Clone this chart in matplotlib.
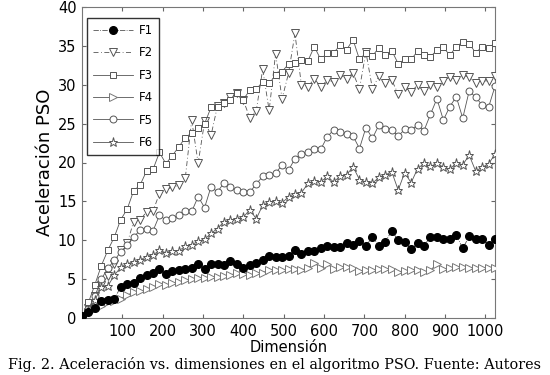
import numpy as np
import matplotlib
matplotlib.use("Agg")
import matplotlib.pyplot as plt

dims = list(range(0, 1025, 16))

F1 = [0.2, 0.75, 1.3, 2.2, 2.3, 2.45, 4.0, 4.35, 4.45, 5.1, 5.5, 5.75, 6.3, 5.6, 6.05, 6.15,
      6.3, 6.45, 6.9, 6.3, 7.0, 6.95, 6.8, 7.3, 7.0, 6.45, 6.8, 7.1, 7.45, 7.95, 7.9, 7.8,
      7.95, 8.8, 8.2, 8.65, 8.6, 9.05, 9.25, 9.1, 9.1, 9.6, 9.4, 9.95, 9.25, 10.45, 9.3, 9.8,
      11.2, 10.0, 9.75, 8.85, 9.6, 9.3, 10.45, 10.45, 10.2, 10.1, 10.7, 8.95, 10.5, 10.15, 10.2, 9.4, 10.2]

F2 = [0.1, 1.3, 2.8, 4.2, 5.4, 7.0, 8.8, 9.6, 12.4, 12.6, 13.65, 13.75, 16.0, 16.55, 16.8, 17.1,
      17.95, 25.45, 19.9, 25.3, 23.5, 27.3, 27.7, 28.4, 28.9, 28.0, 25.75, 26.65, 32.0, 26.7, 34.0, 28.2,
      31.45, 36.6, 29.95, 29.7, 30.8, 29.7, 30.6, 30.4, 31.2, 30.8, 31.5, 29.5, 34.2, 29.5, 31.1, 30.2,
      30.6, 28.8, 29.65, 29.1, 29.95, 29.2, 29.95, 29.65, 30.5, 31.0, 30.6, 31.2, 31.0, 30.2, 30.5, 30.5, 31.1]

F3 = [0.1, 2.0, 4.3, 6.75, 8.7, 10.4, 12.65, 14.0, 16.35, 17.1, 18.9, 19.1, 21.3, 19.85, 20.9, 22.0,
      23.2, 23.8, 24.5, 25.0, 27.1, 27.2, 27.6, 28.0, 28.9, 28.1, 29.3, 29.4, 30.4, 30.2, 31.2, 31.7,
      32.65, 32.8, 33.2, 33.05, 34.9, 33.25, 34.1, 34.1, 35.1, 34.5, 35.8, 33.25, 34.1, 33.7, 34.75, 33.8,
      34.4, 32.7, 33.25, 33.25, 34.3, 33.8, 33.6, 34.45, 34.8, 33.8, 34.9, 35.5, 35.3, 34.1, 34.9, 34.7, 35.4]

F4 = [0.1, 0.8, 1.1, 1.6, 2.0, 2.2, 2.5, 2.95, 3.3, 3.45, 3.7, 4.0, 4.35, 4.2, 4.45, 4.65,
      4.85, 5.05, 5.15, 5.2, 5.3, 5.3, 5.45, 5.5, 5.85, 5.6, 5.5, 5.75, 5.85, 6.15, 6.15, 6.15,
      6.25, 6.3, 6.2, 6.4, 7.1, 6.4, 7.0, 6.25, 6.6, 6.6, 6.4, 6.1, 6.15, 6.15, 6.25, 6.25,
      6.25, 5.95, 6.0, 6.15, 6.15, 5.95, 6.15, 6.95, 6.25, 6.4, 6.5, 6.5, 6.4, 6.4, 6.4, 6.4, 6.4]

F5 = [0.1, 1.2, 2.8, 5.0, 6.4, 7.4, 8.5, 9.4, 10.4, 11.3, 11.5, 11.2, 13.2, 12.6, 12.9, 13.2,
      13.75, 13.7, 15.6, 14.2, 16.9, 16.2, 17.4, 16.8, 16.45, 16.2, 16.15, 17.25, 18.2, 18.4, 18.6, 19.7,
      19.0, 20.5, 21.1, 21.4, 21.8, 21.7, 23.3, 24.2, 23.95, 23.7, 23.4, 21.8, 24.5, 23.1, 24.8, 24.25,
      24.2, 23.4, 24.25, 24.2, 24.8, 24.1, 26.2, 28.2, 25.45, 27.2, 28.45, 25.7, 29.2, 28.4, 27.4, 27.1, 29.8]

F6 = [0.1, 1.0, 2.3, 4.0, 4.1, 5.5, 6.5, 7.0, 7.2, 7.45, 7.9, 8.1, 8.7, 8.4, 8.65, 8.65,
      9.2, 9.4, 9.9, 10.1, 10.9, 11.5, 12.4, 12.55, 12.75, 12.95, 13.95, 12.75, 14.5, 14.9, 15.0, 14.8,
      15.6, 16.0, 16.1, 17.3, 17.6, 17.5, 18.2, 17.5, 18.25, 18.4, 19.45, 17.8, 17.5, 17.3, 18.1, 18.4,
      18.8, 16.45, 18.7, 17.4, 19.2, 19.9, 19.5, 19.9, 19.4, 19.1, 20.0, 19.7, 20.95, 18.9, 19.4, 19.8, 21.1]

labels = ["F1", "F2", "F3", "F4", "F5", "F6"]
xticks = [100, 200, 300, 400, 500, 600, 700, 800, 900, 1000]
yticks = [0, 5, 10, 15, 20, 25, 30, 35, 40]

fig = plt.figure(figsize=(5.5, 3.75), dpi=100)
ax = fig.add_axes([82/550, 1-318/375, (495-82)/550, (318-7)/375])

gray = "#555555"
ax.plot(dims, F1, linestyle="-.", color=gray, lw=0.6, marker="o", ms=5.5,
        mfc="black", mec="black", label=labels[0], zorder=6)
ax.plot(dims, F2, linestyle=(0, (6, 3, 1, 3)), color=gray, lw=0.6, marker="v", ms=6,
        mfc="white", mec=gray, mew=0.7, label=labels[1], zorder=3)
ax.plot(dims, F3, linestyle="-", color=gray, lw=0.6, marker="s", ms=4.5,
        mfc="white", mec=gray, mew=0.7, label=labels[2], zorder=4)
ax.plot(dims, F4, linestyle="-", color=gray, lw=0.6, marker=">", ms=5.5,
        mfc="white", mec="#777777", mew=0.7, label=labels[3], zorder=5)
ax.plot(dims, F5, linestyle="-", color=gray, lw=0.6, marker="o", ms=5,
        mfc="white", mec=gray, mew=0.7, label=labels[4], zorder=5)
ax.plot(dims, F6, linestyle="-", color=gray, lw=0.6, marker="*", ms=6.5,
        mfc="white", mec=gray, mew=0.7, label=labels[5], zorder=5)

ax.set_xlim(0, 1024)
ax.set_ylim(0, 40)
ax.set_xticks(xticks)
ax.set_yticks(yticks)
ax.tick_params(direction="in", length=3, labelsize=10.5, color="#666666", top=True, right=True,
               labeltop=False, labelright=False, pad=4)
for s in ax.spines.values():
    s.set_color("#777777")
    s.set_linewidth(0.8)
ax.set_xlabel("Dimensión", fontsize=10.5, labelpad=1)
ax.set_ylabel("Aceleración PSO", fontsize=13, labelpad=3)

leg = ax.legend(loc="upper left", bbox_to_anchor=(0.012, 0.965), fontsize=8.5, frameon=True,
                fancybox=False, edgecolor="black", handlelength=3.4, borderpad=0.5,
                labelspacing=0.8, handletextpad=0.5, borderaxespad=0)
leg.get_frame().set_linewidth(1.0)

fig.text(0.5, 1-365/375, "Fig. 2. Aceleración vs. dimensiones en el algoritmo PSO. Fuente: Autores",
         ha="center", va="center", fontsize=10.4, family="DejaVu Serif")

fig.savefig("out.png", dpi=100)
